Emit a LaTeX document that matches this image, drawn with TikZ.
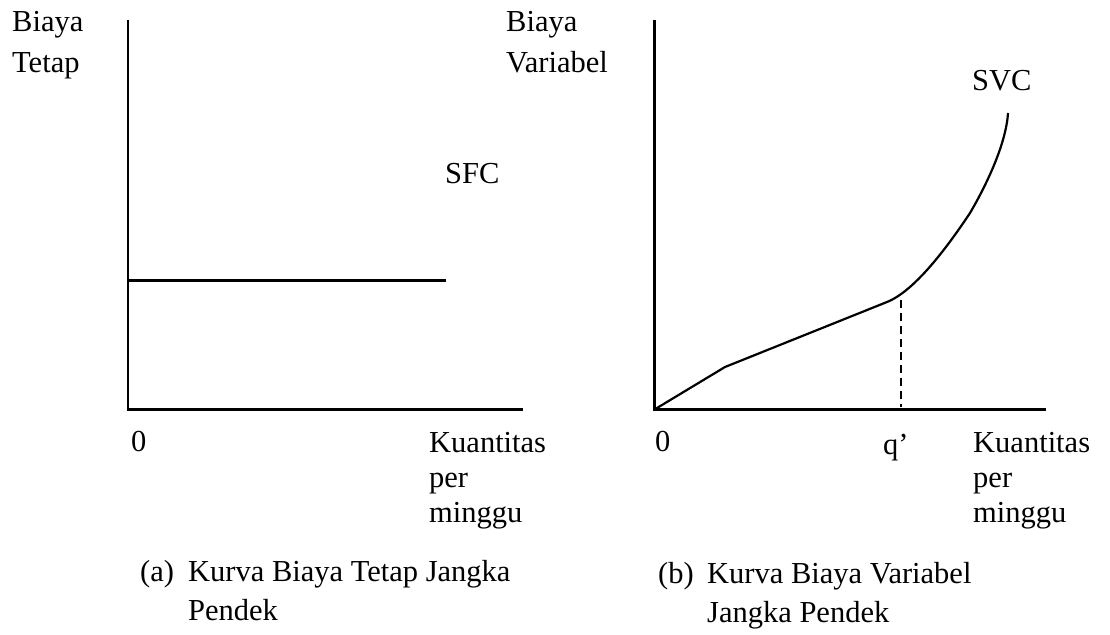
\documentclass[tikz,border=0pt]{standalone}
\usepackage{fontspec}
\setmainfont{Liberation Serif}
\begin{document}
\begin{tikzpicture}[x=1pt,y=-1pt,
  lbl/.style={anchor=base west,inner sep=0pt,font=\fontsize{30.5}{35}\selectfont},
  axisline/.style={line width=2.2pt,line join=miter},
  curveline/.style={line width=2.2pt,line join=round},
  qline/.style={line width=1.8pt,dash pattern=on 8pt off 5pt}]
\useasboundingbox (0,0) rectangle (1110,634);
% ---------- panel (a) ----------
\coordinate (Atop) at (128,20);
\coordinate (Aorig) at (128,409.5);
\coordinate (Aend) at (523,409.5);
\coordinate (SFCa) at (128,280.5);
\coordinate (SFCb) at (446,280.5);
\draw[axisline] (Atop) -- (Aorig) -- (Aend);
\draw[curveline] (SFCa) -- (SFCb);
\node[lbl] (ya1) at (12,32) {Biaya};
\node[lbl] (ya2) at (12,72) {Tetap};
\node[lbl] (sfc) at (445,183) {SFC};
\node[lbl] (za) at (131,451) {0};
\node[lbl] (xa1) at (429,452) {Kuantitas};
\node[lbl] (xa2) at (429,487) {per};
\node[lbl] (xa3) at (429,522) {minggu};
\node[lbl] (capa0) at (140,581) {(a)};
\node[lbl] (capa1) at (188,581) {Kurva Biaya Tetap Jangka};
\node[lbl] (capa2) at (188,620) {Pendek};
% ---------- panel (b) ----------
\coordinate (Btop) at (654.5,20);
\coordinate (Borig) at (654.5,409.5);
\coordinate (Bend) at (1046,409.5);
\coordinate (K1) at (725,367);
\coordinate (K2) at (887,302);
\coordinate (K3) at (970,213);
\coordinate (K4) at (1008,113);
\coordinate (Qtop) at (901,300);
\coordinate (Qbot) at (901,407);
\draw[axisline] (Btop) -- (Borig) -- (Bend);
\draw[curveline] (Borig) -- (K1) -- (K2) .. controls (917,290) and (952,240) .. (K3)
  .. controls (985,187.5) and (1006,145) .. (K4);
\draw[qline] (Qtop) -- (Qbot);
\node[lbl] (yb1) at (506,32) {Biaya};
\node[lbl] (yb2) at (506,72) {Variabel};
\node[lbl] (svc) at (972,90) {SVC};
\node[lbl] (zb) at (655,451) {0};
\node[lbl] (qp) at (883,454) {q’};
\node[lbl] (xb1) at (973,452) {Kuantitas};
\node[lbl] (xb2) at (973,487) {per};
\node[lbl] (xb3) at (973,522) {minggu};
\node[lbl] (capb0) at (658,583) {(b)};
\node[lbl] (capb1) at (707,583) {Kurva Biaya Variabel};
\node[lbl] (capb2) at (707,622) {Jangka Pendek};
\end{tikzpicture}
\end{document}
